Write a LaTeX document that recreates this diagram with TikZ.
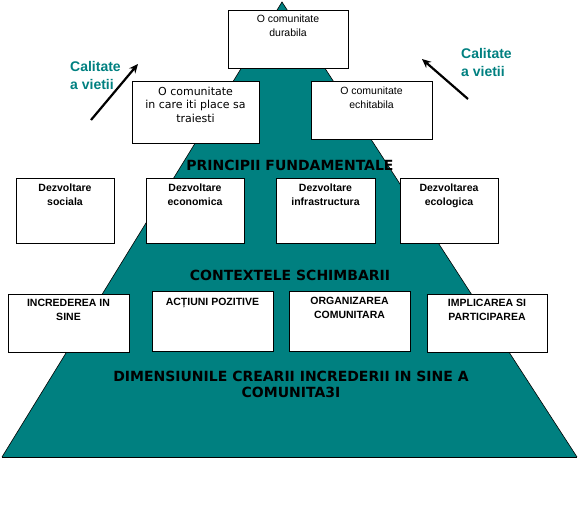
\documentclass[tikz,border=0pt]{standalone}
\usepackage{fontspec}
\setmainfont{Liberation Sans}
\newfontfamily\dvsans{DejaVu Sans}
\usetikzlibrary{arrows.meta,calc}
\definecolor{tealpyr}{RGB}{0,128,128}
\tikzset{
  box/.style={draw=black,fill=white,line width=0.9pt,inner sep=0pt},
  boxtxt/.style={anchor=north,inner sep=0pt,align=center,font=\fontsize{10.5}{14}\selectfont},
  boldtxt/.style={anchor=north,inner sep=0pt,align=center,font=\fontsize{10.5}{14}\selectfont\bfseries},
  roundtxt/.style={anchor=north,inner sep=0pt,align=center,font=\dvsans\fontsize{11}{13.5}\selectfont},
  bigtxt/.style={inner sep=0pt,align=center,font=\dvsans\bfseries\fontsize{14}{16}\selectfont},
  quality/.style={anchor=north west,inner sep=0pt,align=left,text=tealpyr,font=\fontsize{14}{18}\selectfont\bfseries},
  uparrow/.style={line width=2.2pt,-{Stealth[length=9pt,width=8pt]}}
}
\begin{document}
\begin{tikzpicture}[x=1pt,y=-1pt]
\useasboundingbox (0,0) rectangle (580,506);
% pyramid
\fill[tealpyr] (282,2) -- (577,457) -- (2,457) -- cycle;
\draw[black,line width=0.6pt] (2,457) -- (282,2) -- (577,457);
\draw[black,line width=1pt] (2,457) -- (577,457);

% top boxes
\node[box,minimum width=120pt,minimum height=58pt] (top) at (288,39) {};
\node[boxtxt] (toptxt) at ([yshift=-5pt]top.north) {O comunitate\\durabila};
\node[box,minimum width=127pt,minimum height=62pt] (left) at (195.5,112) {};
\node[roundtxt] (lefttxt) at ([yshift=-6pt]left.north) {O comunitate\\in care iti place sa\\traiesti};
\node[box,minimum width=121pt,minimum height=58pt] (right) at (371.5,110) {};
\node[boxtxt] (righttxt) at ([yshift=-6pt]right.north) {O comunitate\\echitabila};

% quality of life
\node[quality] (qleft) at (70,61) {Calitate\\a vietii};
\node[quality] (qright) at (461,48) {Calitate\\a vietii};
\coordinate (la) at (91,120);
\coordinate (lb) at (138,64);
\coordinate (ra) at (468,99);
\coordinate (rb) at (422,59);
\draw[uparrow] (la) -- (lb);
\draw[uparrow] (ra) -- (rb);

% principles
\node[bigtxt] (princ) at (290,165) {PRINCIPII FUNDAMENTALE};
\node[box,minimum width=98pt,minimum height=65pt] (d1) at (65,210.5) {};
\node[boldtxt] (d1t) at ([yshift=-6pt]d1.north) {Dezvoltare\\sociala};
\node[box,minimum width=98pt,minimum height=65pt] (d2) at (195,210.5) {};
\node[boldtxt] (d2t) at ([yshift=-6pt]d2.north) {Dezvoltare\\economica};
\node[box,minimum width=99pt,minimum height=65pt] (d3) at (325.5,210.5) {};
\node[boldtxt] (d3t) at ([yshift=-6pt]d3.north) {Dezvoltare\\infrastructura};
\node[box,minimum width=98pt,minimum height=65pt] (d4) at (449,210.5) {};
\node[boldtxt] (d4t) at ([yshift=-6pt]d4.north) {Dezvoltarea\\ecologica};

% contexts
\node[bigtxt] (ctx) at (290,275) {CONTEXTELE SCHIMBARII};
\node[box,minimum width=121pt,minimum height=58pt] (c1) at (68.5,323) {};
\node[boldtxt] (c1t) at ([yshift=-5pt]c1.north) {INCREDEREA IN\\SINE};
\node[box,minimum width=121pt,minimum height=60pt] (c2) at (212.5,321) {};
\node[boldtxt] (c2t) at ([yshift=-7pt]c2.north) {ACȚIUNI POZITIVE};
\node[box,minimum width=121pt,minimum height=60pt] (c3) at (349.5,321) {};
\node[boldtxt] (c3t) at ([yshift=-6pt]c3.north) {ORGANIZAREA\\COMUNITARA};
\node[box,minimum width=120pt,minimum height=58pt] (c4) at (487,323) {};
\node[boldtxt] (c4t) at ([yshift=-5pt]c4.north) {IMPLICAREA SI\\PARTICIPAREA};

% dimensions
\node[bigtxt] (dim) at (291,384) {DIMENSIUNILE CREARII INCREDERII IN SINE A\\COMUNITA3I};
\end{tikzpicture}
\end{document}
